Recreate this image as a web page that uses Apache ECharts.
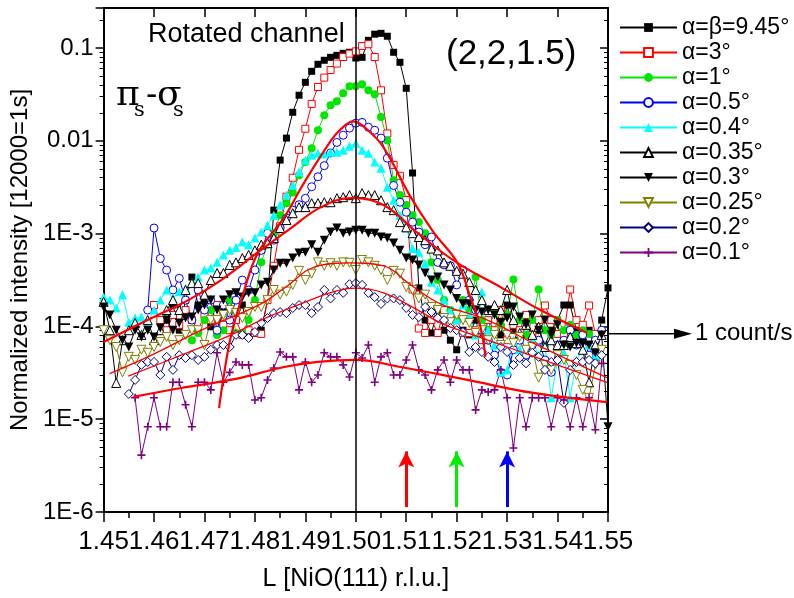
<!DOCTYPE html>
<html>
<head>
<meta charset="utf-8">
<script src="https://cdn.jsdelivr.net/npm/echarts@6/dist/echarts.min.js"></script>
<style>
  html, body { margin: 0; padding: 0; background: #fff; }
  #chart { width: 794px; height: 598px; }
</style>
</head>
<body>
<div id="chart"></div>
<script>
  const FONT = '"Liberation Sans", Arial, sans-serif'

  // scan points, L in r.l.u.
  const L = [
    1.45, 1.45125, 1.4525, 1.45375, 1.455, 1.45625, 1.4575, 1.45875, 1.46, 1.46125,
    1.4625, 1.46375, 1.465, 1.46625, 1.4675, 1.46875, 1.47, 1.47125, 1.4725, 1.47375,
    1.475, 1.47625, 1.4775, 1.47875, 1.48, 1.48125, 1.4825, 1.48375, 1.485, 1.48625,
    1.4875, 1.48875, 1.49, 1.49125, 1.4925, 1.49375, 1.495, 1.49625, 1.4975, 1.49875,
    1.5, 1.50125, 1.5025, 1.50375, 1.505, 1.50625, 1.5075, 1.50875, 1.51, 1.51125,
    1.5125, 1.51375, 1.515, 1.51625, 1.5175, 1.51875, 1.52, 1.52125, 1.5225, 1.52375,
    1.525, 1.52625, 1.5275, 1.52875, 1.53, 1.53125, 1.5325, 1.53375, 1.535, 1.53625,
    1.5375, 1.53875, 1.54, 1.54125, 1.5425, 1.54375, 1.545, 1.54625, 1.5475, 1.54875,
    1.55
  ]

  // normalized intensities, one value per scan point (null = not measured)
  const a945 = [
    null, null, null, null, null, null, null, null, null, null,
    1.17e-4, 1.7e-4, 9.1e-5, 1.92e-4, 3.4e-4, 1.7e-4, 1.92e-4, 9.9e-5, 8.5e-5, 1.5e-4,
    1.92e-4, 1.17e-4, 1.7e-4, 8.5e-5, 8.5e-5, 9.1e-5, 1.92e-4, 1.79e-3, 6.2e-3, 0.0107,
    0.0203, 0.031, 0.0427, 0.0561, 0.0668, 0.0738, 0.0794, 0.0834, 0.0877, 0.090,
    0.078, 0.0794, 0.121, 0.141, 0.144, 0.134, 0.090, 0.0702, 0.0368, 4.5e-3,
    2.6e-4, 1.17e-4, 8.5e-5, 1.5e-4, 9.1e-5, 7.1e-5, 5.6e-5, 9.1e-5, 8.1e-5, 1.17e-4,
    7.1e-5, 9.1e-5, 1.5e-4, 8.1e-5, 1.7e-4, 9.1e-5, 7.1e-5, 1.17e-4, 8.1e-5, 9.1e-5,
    6.3e-5, 9.1e-5, 1.17e-4, 1.7e-4, 1.7e-4, 9.1e-5, 7.1e-5, 9.1e-5, 5.6e-5, 1.17e-4,
    2.6e-4
  ]
  const a3 = [
    null, null, null, null, null, null, null, null, 1.7e-4, 1.17e-4,
    9.1e-5, 1.33e-4, 1.04e-4, 1.5e-4, 1.17e-4, 9.1e-5, 1.33e-4, 1.17e-4, 1.7e-4, 1.04e-4,
    9.1e-5, 1.17e-4, 8.1e-5, 9.1e-5, 8.5e-5, 8.3e-5, 1.92e-4, 4.5e-4, 1.2e-3, 2.5e-3,
    4.0e-3, 8.0e-3, 0.0135, 0.025, 0.038, 0.048, 0.058, 0.068, 0.08, 0.087,
    0.092, 0.105, 0.11, 0.08, 0.035, 0.012, 5.5e-3, 4.2e-3, 2.3e-3, 2.5e-4,
    9.5e-5, 8.5e-5, 1.17e-4, 8.5e-5, 1.5e-4, 1.04e-4, 1.17e-4, 8.5e-5, 8.5e-5, 9.1e-5,
    7.1e-5, 1.17e-4, 9.1e-5, 1.5e-4, 7.1e-5, 1.04e-4, 9.1e-5, 1.33e-4, 8.1e-5, 1.17e-4,
    1.68e-4, 1.17e-4, 8.3e-5, 8.3e-5, 2.5e-4, 1.17e-4, 1.04e-4, 1.68e-4, 8.3e-5, null,
    null
  ]
  const a1 = [
    null, null, null, null, null, null, null, null, null, null,
    null, null, null, null, 7.1e-5, 8.5e-5, 1.17e-4, 1.5e-4, 8.1e-5, 9.1e-5,
    1.92e-4, 8.5e-5, 8.5e-5, 1.17e-4, 1.92e-4, 4.9e-4, 7.6e-4, 1.01e-3, 1.58e-3, 2.13e-3,
    2.77e-3, 4.26e-3, 5.9e-3, 8.3e-3, 0.013, 0.0189, 0.0242, 0.0267, 0.0325, 0.0387,
    0.0387, 0.0406, 0.0351, 0.0318, 0.0181, 0.0101, 3.76e-3, 2.6e-3, 2.03e-3, 1.58e-3,
    1.33e-3, 1.01e-3, 4.9e-4, 3.16e-4, 1.92e-4, 1.5e-4, 1.17e-4, 1.92e-4, 1.5e-4, 3.4e-4,
    1.17e-4, 9.1e-5, 1.5e-4, 1.04e-4, 1.33e-4, 3.2e-4, 1.17e-4, 8.1e-5, 1.17e-4, 2.5e-4,
    9.1e-5, 8.1e-5, 1.17e-4, 9.1e-5, 1.04e-4, 8.1e-5, 9.1e-5, 8.3e-5, null, null,
    null
  ]
  const a05 = [
    null, null, null, null, null, null, null, 1.5e-4, 1.15e-3, 5.4e-4,
    4.05e-4, 2.47e-4, 3.3e-4, 1.92e-4, 1.17e-4, 2.47e-4, 1.5e-4, 1.92e-4, 9.1e-5, 1.7e-4,
    1.17e-4, 1.92e-4, 3.16e-4, 2.47e-4, 4.05e-4, 6.6e-4, 1.01e-3, 8.5e-4, 1.15e-3, 1.47e-3,
    1.79e-3, 2.05e-3, 2.4e-3, 3.2e-3, 4.1e-3, 5.4e-3, 7.4e-3, 9.6e-3, 0.0115, 0.0137,
    0.0155, 0.0158, 0.014, 0.013, 0.0107, 6.5e-3, 3.3e-3, 2.18e-3, 1.7e-3, 1.33e-3,
    1.04e-3, 7.6e-4, 9.2e-4, 4.9e-4, 4.6e-4, 4.5e-4, 2.8e-4, 4.05e-4, 1.92e-4, 1.5e-4,
    9.1e-5, 7.1e-5, 4.9e-5, 3.2e-5, 3.0e-5, 5.6e-5, 7.1e-5, 4.9e-5, 6.3e-5, 7.1e-5,
    4.35e-5, 3.2e-5, 6.3e-5, 7.1e-5, 9.1e-5, 6.3e-5, 8.1e-5, 4.9e-5, 7.1e-5, 9.1e-5,
    null
  ]
  const a04 = [
    2.07e-4, 1.92e-4, 1.58e-4, 2.2e-4, 1.11e-4, 1.23e-4, 1.26e-4, 1.11e-4, 1.5e-4, 1.92e-4,
    2.47e-4, 2.0e-4, 2.37e-4, 2.58e-4, 3.0e-4, 3.4e-4, 4.05e-4, 4.25e-4, 4.9e-4, 5.9e-4,
    6.6e-4, 7.1e-4, 8.1e-4, 7.6e-4, 8.95e-4, 1.04e-3, 1.23e-3, 1.58e-3, 2.03e-3, 2.6e-3,
    3.33e-3, 4.6e-3, 6.18e-3, 7.0e-3, 7.36e-3, 7.2e-3, 7.55e-3, 7.55e-3, 7.92e-3, 8.75e-3,
    9.4e-3, 7.92e-3, 7.36e-3, 5.9e-3, 5.07e-3, 3.16e-3, 2.29e-3, 1.58e-3, 1.15e-3, 6.9e-4,
    6.3e-4, 4.8e-4, 3.0e-4, 2.47e-4, 1.92e-4, 1.5e-4, 1.17e-4, 1.7e-4, 1.33e-4, 8.1e-5,
    2.35e-4, 9.1e-5, 6.3e-5, 3.2e-5, 3.4e-5, 7.1e-5, 5.6e-5, 1.04e-4, 7.1e-5, 4.9e-5,
    6.3e-5, 1.7e-5, 4.35e-5, 5.2e-5, 1.7e-5, 4.35e-5, 5.6e-5, 6.3e-5, 4.9e-5, null,
    null
  ]
  const a035 = [
    1.84e-4, 9.1e-5, 2.46e-5, 7.1e-5, 9.1e-5, 1.09e-4, 8.1e-5, 1.17e-4, 7.1e-5, 9.1e-5,
    1.5e-4, 1.92e-4, 1.5e-4, 2.47e-4, 2.93e-4, 2.93e-4, 2.2e-4, 3.16e-4, 3.76e-4, 3.76e-4,
    4.6e-4, 4.9e-4, 5.45e-4, 5.9e-4, 6.6e-4, 7.6e-4, 7.9e-4, 8.95e-4, 1.15e-3, 1.4e-3,
    1.66e-3, 1.93e-3, 1.93e-3, 2.13e-3, 2.13e-3, 2.18e-3, 2.18e-3, 2.41e-3, 2.47e-3, 2.6e-3,
    2.41e-3, 2.73e-3, 2.6e-3, 2.6e-3, 2.29e-3, 1.93e-3, 1.79e-3, 1.33e-3, 1.17e-3, 1.01e-3,
    9.2e-4, 8.5e-4, 6.9e-4, 6.6e-4, 4.9e-4, 4.5e-4, 3.97e-4, 3.7e-4, 3.0e-4, 2.47e-4,
    1.92e-4, 1.5e-4, 1.7e-4, 1.5e-4, 2.47e-4, 1.17e-4, 8.5e-5, 1.04e-4, 8.1e-5, 9.9e-5,
    6.0e-5, 7.1e-5, 6.3e-5, 6.3e-5, 7.7e-5, 6.6e-5, 5.6e-5, 2.5e-5, 6.3e-5, 8.1e-5,
    null
  ]
  const a03 = [
    1.62e-4, 1.33e-4, 9.1e-5, 7.1e-5, 6.0e-5, 9.1e-5, 7.7e-5, 9.1e-5, 7.7e-5, 9.6e-5,
    1.17e-4, 9.1e-5, 1.09e-4, 1.23e-4, 1.26e-4, 1.5e-4, 1.7e-4, 1.92e-4, 1.5e-4, 1.92e-4,
    2.2e-4, 2.3e-4, 2.07e-4, 2.3e-4, 2.3e-4, 2.8e-4, 3.0e-4, 4.05e-4, 4.8e-4, 4.8e-4,
    5.45e-4, 6.2e-4, 6.3e-4, 7.6e-4, 6.3e-4, 8.5e-4, 1.04e-3, 1.15e-3, 1.01e-3, 1.04e-3,
    1.09e-3, 1.09e-3, 1.01e-3, 1.01e-3, 9.2e-4, 8.95e-4, 7.9e-4, 6.6e-4, 5.45e-4, 5.2e-4,
    4.6e-4, 3.76e-4, 3.16e-4, 3.4e-4, 2.8e-4, 2.47e-4, 2.0e-4, 1.75e-4, 1.75e-4, 1.5e-4,
    1.43e-4, 1.5e-4, 1.33e-4, 1.11e-4, 1.23e-4, 1.62e-4, 1.26e-4, 1.04e-4, 1.33e-4, 9.1e-5,
    1.17e-4, 8.1e-5, 1.04e-4, 6.3e-5, 6.0e-5, 6.6e-5, 6.6e-5, 6.3e-5, 5.2e-5, 8.1e-5,
    8.3e-6
  ]
  const a025 = [
    9.1e-5, 7.1e-5, 6.0e-5, 3.2e-5, 4.7e-5, 4.35e-5, 5.6e-5, 5.2e-5, 6.0e-5, 6.8e-5,
    7.7e-5, 6.3e-5, 7.1e-5, 8.1e-5, 9.1e-5, 9.1e-5, 6.3e-5, 1.17e-4, 1.17e-4, 1.33e-4,
    1.5e-4, 1.39e-4, 1.23e-4, 1.43e-4, 1.62e-4, 1.62e-4, 1.92e-4, 2.47e-4, 2.2e-4, 2.37e-4,
    2.8e-4, 3.97e-4, 3.16e-4, 3.7e-4, 4.9e-4, 4.5e-4, 4.8e-4, 4.5e-4, 4.9e-4, 4.85e-4,
    4.05e-4, 5.2e-4, 4.9e-4, 4.5e-4, 4.05e-4, 3.16e-4, 3.97e-4, 3.7e-4, 2.65e-4, 2.47e-4,
    2.0e-4, 2.2e-4, 1.62e-4, 1.5e-4, 1.23e-4, 1.11e-4, 1.33e-4, 1.17e-4, 1.09e-4, 8.5e-5,
    9.1e-5, 7.1e-5, 8.1e-5, 6.3e-5, 8.1e-5, 6.6e-5, 7.7e-5, 5.6e-5, 6.0e-5, 2.8e-5,
    3.85e-5, 3.4e-5, 4.9e-5, 4.35e-5, 3.85e-5, 3.0e-5, 2.07e-5, 1.7e-5, 3.85e-5, 5.6e-5,
    null
  ]
  const a02 = [
    null, null, null, null, 1.87e-5, 2.65e-5, 3.85e-5, 4.14e-5, 4.14e-5, 3.0e-5,
    4.7e-5, 3.4e-5, 4.9e-5, 4.57e-5, 4.9e-5, 4.35e-5, 4.7e-5, 5.6e-5, 6.3e-5, 6.3e-5,
    6.0e-5, 8.1e-5, 8.1e-5, 7.5e-5, 8.7e-5, 1.09e-4, 1.23e-4, 1.39e-4, 1.43e-4, 1.39e-4,
    1.58e-4, 1.7e-4, 1.7e-4, 1.39e-4, 1.62e-4, 2.47e-4, 2.0e-4, 2.47e-4, 2.3e-4, 2.85e-4,
    2.93e-4, 2.8e-4, 2.3e-4, 2.07e-4, 1.75e-4, 2.0e-4, 2.0e-4, 1.92e-4, 1.58e-4, 1.33e-4,
    1.26e-4, 1.62e-4, 1.43e-4, 1.23e-4, 1.17e-4, 9.6e-5, 9.1e-5, 8.7e-5, 5.3e-5, 6.0e-5,
    5.3e-5, 4.7e-5, 4.14e-5, 6.0e-5, 5.3e-5, 3.85e-5, 4.57e-5, 4.0e-5, 5.2e-5, 4.7e-5,
    3.4e-5, 4.14e-5, 4.35e-5, 1.5e-5, 3.4e-5, 4.14e-5, 4.14e-5, 4.35e-5, 4.0e-5, 4.9e-5,
    null
  ]
  const a01 = [
    null, null, null, null, null, 1.7e-5, 4.1e-6, 8.3e-6, 1.7e-5, 8.3e-6,
    8.3e-6, 2.5e-5, 2.5e-5, 1.43e-5, 8.3e-6, 2.5e-5, 2.5e-5, 2.07e-5, 5.2e-5, 2.5e-5,
    3.2e-5, 4.14e-5, 3.85e-5, 3.85e-5, 1.61e-5, 1.7e-5, 2.65e-5, 3.56e-5, 5.3e-5, 4.7e-5,
    4.7e-5, 2.07e-5, 4.14e-5, 2.5e-5, 3.0e-5, 5.2e-5, 4.7e-5, 4.7e-5, 3.85e-5, 2.85e-5,
    5.2e-5, 4.57e-5, 6.3e-5, 2.5e-5, 4.7e-5, 5.2e-5, 3.0e-5, 3.0e-5, 4.35e-5, 6.3e-5,
    3.4e-5, 3.0e-5, 2.07e-5, 3.4e-5, 4.35e-5, 2.5e-5, 4.35e-5, 3.4e-5, 3.4e-5, 1.26e-5,
    2.07e-5, 1.97e-5, 2.07e-5, 3.4e-5, 1.7e-5, 4.9e-6, 1.7e-5, 8.3e-6, 1.7e-5, 1.7e-5,
    1.7e-5, 8.3e-6, 1.7e-5, 1.61e-5, 8.3e-6, 1.7e-5, 8.3e-6, 1.7e-5, 7.7e-6, 4.0e-5,
    null
  ]

  // fitted profiles [L, intensity]
  const fit05 = [
    [1.4729, 1.32e-5], [1.4737, 2.65e-5], [1.4753, 8.1e-5], [1.4779, 2.47e-4], [1.4806, 6.2e-4],
    [1.4858, 1.5e-3], [1.4897, 3.5e-3], [1.4951, 1.01e-2], [1.4970, 1.33e-2], [1.4995, 1.62e-2],
    [1.5024, 1.30e-2], [1.5055, 8.5e-3], [1.5109, 2.47e-3], [1.5154, 1.04e-3], [1.5202, 4.8e-4],
    [1.5227, 2.07e-4], [1.5247, 9.9e-5], [1.5257, 4.7e-5]
  ]
  const fit035 = [
    [1.45, 6.8e-5], [1.4595, 1.23e-4], [1.4668, 1.92e-4], [1.4733, 3.16e-4], [1.4806, 6.3e-4],
    [1.4866, 1.09e-3], [1.4931, 1.93e-3], [1.4992, 2.41e-3], [1.5055, 2.03e-3], [1.5123, 1.01e-3],
    [1.5202, 4.8e-4], [1.5287, 2.65e-4], [1.5366, 1.5e-4], [1.5459, 8.5e-5]
  ]
  const fit025 = [
    [1.4512, 3.1e-5], [1.4595, 4.9e-5], [1.4694, 9.1e-5], [1.4812, 1.75e-4], [1.4858, 2.58e-4],
    [1.4925, 4.5e-4], [1.4990, 4.85e-4], [1.5055, 4.5e-4], [1.5109, 2.8e-4], [1.5168, 1.75e-4],
    [1.5261, 1.17e-4], [1.5352, 6.6e-5], [1.5498, 2.8e-5]
  ]
  const fit02 = [
    [1.4549, 2.92e-5], [1.4654, 4.9e-5], [1.4753, 8.1e-5], [1.4812, 1.17e-4], [1.4891, 1.75e-4],
    [1.4957, 2.37e-4], [1.50, 2.58e-4], [1.5055, 2.3e-4], [1.5123, 1.5e-4], [1.5168, 1.09e-4],
    [1.5221, 8.5e-5], [1.53, 6.0e-5], [1.5391, 4.0e-5], [1.5498, 2.5e-5]
  ]
  const fit01 = [
    [1.4559, 1.74e-5], [1.4654, 2.17e-5], [1.4759, 2.7e-5], [1.4858, 3.65e-5], [1.4925, 4.14e-5],
    [1.50, 4.35e-5], [1.5089, 3.65e-5], [1.5221, 2.65e-5], [1.5352, 1.92e-5], [1.5498, 1.53e-5]
  ]

  const X_TICKS = [1.45, 1.55, 0.01]
  const Y_RANGE = [1e-6, 0.27]
  const COUNT_RATE = 1 / 12000          // 1 count/s in normalized units
  const ARROW_L = [1.51, 1.52, 1.53]    // marked positions
  const ARROW_Y = [1.13e-6, 4.5e-6]

  const downTri = 'path://M0,0L10,0L5,9Z'
  const cross = 'path://M4,0H6V4H10V6H6V10H4V6H0V4H4Z'

  const dataSeries = [
    { name: 'α=β=9.45°', vals: a945, color: '#000000', symbol: 'rect', size: 7, open: false },
    { name: 'α=3°', vals: a3, color: '#ff0000', symbol: 'rect', size: 7, open: true },
    { name: 'α=1°', vals: a1, color: '#00e600', symbol: 'circle', size: 8, open: false },
    { name: 'α=0.5°', vals: a05, color: '#0000ff', symbol: 'circle', size: 8, open: true },
    { name: 'α=0.4°', vals: a04, color: '#00ffff', symbol: 'triangle', size: 9, open: false },
    { name: 'α=0.35°', vals: a035, color: '#000000', symbol: 'triangle', size: 9, open: true },
    { name: 'α=0.3°', vals: a03, color: '#000000', symbol: downTri, size: 9, open: false },
    { name: 'α=0.25°', vals: a025, color: '#808000', symbol: downTri, size: 9, open: true },
    { name: 'α=0.2°', vals: a02, color: '#000080', symbol: 'diamond', size: 9, open: true },
    { name: 'α=0.1°', vals: a01, color: '#800080', symbol: cross, size: 8, open: false }
  ]

  const pairs = vals => L.map((x, i) => [x, vals[i]]).filter(p => p[1] != null)

  const series = dataSeries.map(s => ({
    name: s.name,
    type: 'line',
    data: pairs(s.vals),
    symbol: s.symbol,
    symbolSize: s.size,
    showAllSymbol: true,
    lineStyle: { color: s.color, width: 1 },
    itemStyle: s.open
      ? { color: '#ffffff', borderColor: s.color, borderWidth: 1 }
      : { color: s.color, borderColor: s.color, borderWidth: 0 },
    emphasis: { disabled: true },
    z: 2
  }))

  const fitLine = (data, width) => ({
    type: 'line',
    data,
    smooth: 0.4,
    showSymbol: false,
    symbol: 'none',
    lineStyle: { color: '#ff0000', width },
    emphasis: { disabled: true },
    silent: true,
    z: 4
  })

  const f05 = fitLine(fit05, 2.2)
  f05.markLine = {
    silent: true,
    symbol: 'none',
    label: { show: false },
    lineStyle: { color: '#000', width: 1.5, type: 'solid' },
    data: [{ xAxis: 1.5 }]
  }
  const f035 = fitLine(fit035, 2.2)
  f035.markLine = {
    silent: true,
    symbol: ['none', 'arrow'],
    symbolSize: [12, 16],
    label: { show: false },
    data: ARROW_L.map((x, i) => [
      { coord: [x, ARROW_Y[0]], lineStyle: { color: ['#ff0000', '#00ee00', '#0000ff'][i], width: 3, type: 'solid' } },
      { coord: [x, ARROW_Y[1]] }
    ])
  }

  series.push(f05, f035, fitLine(fit025, 1.3), fitLine(fit02, 1.3), fitLine(fit01, 2.2))

  const axisColor = '#000'
  const yLabel = v => {
    const e = Math.log10(v)
    const r = Math.round(e)
    if (Math.abs(e - r) > 1e-6) return ''
    if (r === -1) return '0.1'
    if (r === -2) return '0.01'
    return '1E' + r
  }

  const chart = echarts.init(document.getElementById('chart'))
  chart.setOption({
    animation: false,
    backgroundColor: '#fff',
    textStyle: { fontFamily: FONT },
    grid: { left: 102, right: 186, top: 8, bottom: 86 },
    legend: {
      orient: 'vertical',
      left: 614,
      top: 11,
      itemWidth: 57,
      itemHeight: 11,
      itemGap: 2,
      selectedMode: false,
      textStyle: { fontSize: 23, color: '#000', fontFamily: FONT },
      data: dataSeries.map(s => s.name)
    },
    xAxis: [{
      type: 'value',
      min: X_TICKS[0],
      max: X_TICKS[1],
      interval: X_TICKS[2],
      position: 'bottom',
      axisLine: { lineStyle: { color: axisColor, width: 2 } },
      axisTick: { length: 10, lineStyle: { color: axisColor, width: 1.5 } },
      minorTick: { show: true, splitNumber: 2, length: 6, lineStyle: { color: axisColor, width: 1.5 } },
      splitLine: { show: false },
      axisLabel: { formatter: v => v.toFixed(2), fontSize: 26, color: '#000', margin: 17, fontFamily: FONT },
      name: 'L [NiO(111) r.l.u.]',
      nameLocation: 'middle',
      nameGap: 55,
      nameTextStyle: { fontSize: 25, color: '#000', fontFamily: FONT }
    }, {
      type: 'value',
      min: X_TICKS[0],
      max: X_TICKS[1],
      interval: X_TICKS[2],
      position: 'top',
      axisLine: { lineStyle: { color: axisColor, width: 2 } },
      axisTick: { inside: true, length: 9, lineStyle: { color: axisColor, width: 1.5 } },
      splitLine: { show: false },
      axisLabel: { show: false }
    }],
    yAxis: [{
      type: 'log',
      logBase: 10,
      min: Y_RANGE[0],
      max: Y_RANGE[1],
      position: 'left',
      axisLine: { show: true, lineStyle: { color: axisColor, width: 2 } },
      axisTick: { length: 8, lineStyle: { color: axisColor, width: 1.5 } },
      minorTick: { show: true, splitNumber: 9, length: 4, lineStyle: { color: axisColor, width: 1 } },
      splitLine: { show: false },
      axisLabel: { formatter: yLabel, fontSize: 24, color: '#000', margin: 10, fontFamily: FONT, showMaxLabel: false },
      name: 'Normalized intensity [12000=1s]',
      nameLocation: 'middle',
      nameGap: 66,
      nameTextStyle: { fontSize: 24, color: '#000', fontFamily: FONT }
    }, {
      type: 'log',
      logBase: 10,
      min: Y_RANGE[0],
      max: Y_RANGE[1],
      position: 'right',
      axisLine: { show: true, lineStyle: { color: axisColor, width: 2 } },
      axisTick: { inside: true, length: 8, lineStyle: { color: axisColor, width: 1.5 } },
      minorTick: { show: true, splitNumber: 9, length: 4, lineStyle: { color: axisColor, width: 1 } },
      splitLine: { show: false },
      axisLabel: { show: false }
    }],
    series
  })

  // annotations; the "1 count/s" marker is placed from the axis scale
  const yCount = chart.convertToPixel({ yAxisIndex: 0 }, COUNT_RATE)
  const xEdge = chart.convertToPixel({ xAxisIndex: 0 }, X_TICKS[1])
  const serif = '"DejaVu Serif", "Liberation Serif", serif'
  chart.setOption({
    graphic: {
      elements: [
        { type: 'text', x: 148, y: 35, style: { text: 'Rotated channel', font: '27px ' + FONT, fill: '#000', verticalAlign: 'middle' } },
        { type: 'text', x: 446, y: 54, style: { text: '(2,2,1.5)', font: '35px ' + FONT, fill: '#000', verticalAlign: 'middle' } },
        { type: 'text', x: 116, y: 96, style: { text: 'π', font: '36px ' + serif, fill: '#000', verticalAlign: 'middle' } },
        { type: 'text', x: 134, y: 111, style: { text: 's', font: '21px ' + serif, fill: '#000', verticalAlign: 'middle' } },
        { type: 'text', x: 146, y: 96, style: { text: '-', font: '34px ' + FONT, fill: '#000', verticalAlign: 'middle' } },
        { type: 'text', x: 157, y: 96, style: { text: 'σ', font: '36px ' + serif, fill: '#000', verticalAlign: 'middle' } },
        { type: 'text', x: 173, y: 111, style: { text: 's', font: '21px ' + serif, fill: '#000', verticalAlign: 'middle' } },
        { type: 'line', shape: { x1: xEdge, y1: yCount, x2: xEdge + 70, y2: yCount }, style: { stroke: '#000', lineWidth: 1.5 } },
        { type: 'polygon', shape: { points: [[xEdge + 66, yCount - 5], [xEdge + 84, yCount], [xEdge + 66, yCount + 5]] }, style: { fill: '#000' } },
        { type: 'text', x: xEdge + 87, y: yCount, style: { text: '1 count/s', font: '24px ' + FONT, fill: '#000', verticalAlign: 'middle' } }
      ]
    }
  })
</script>
</body>
</html>
